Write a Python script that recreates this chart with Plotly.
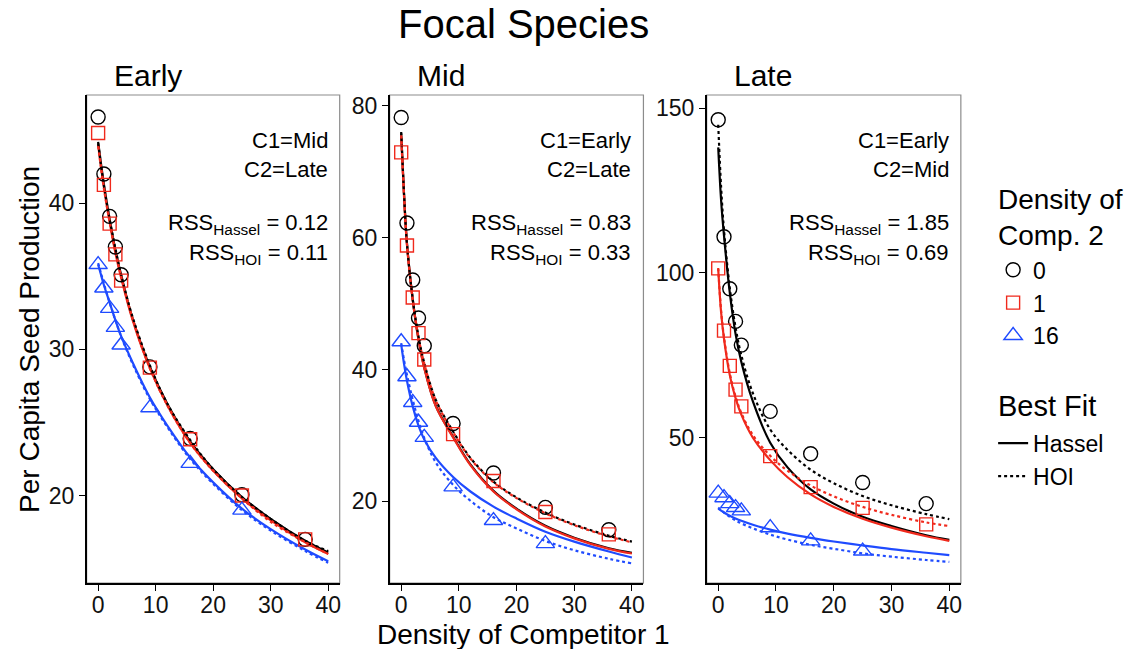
import plotly.graph_objects as go

# ---------------- data ----------------
x_obs = [0, 1, 2, 3, 4, 9, 16, 25, 36]
x_obs16 = [0, 1, 2, 3, 4, 9, 16, 25]
x_fit = [0, 0.5, 1, 2, 3, 4, 6, 9, 12, 16, 20, 25, 30, 36, 40]

panels = ["Early", "Mid", "Late"]
comp1_labels = ["C1=Mid", "C1=Early", "C1=Early"]
comp2_labels = ["C2=Late", "C2=Late", "C2=Mid"]
rss_hassel = ["0.12", "0.83", "1.85"]
rss_hoi = ["0.11", "0.33", "0.69"]

# observed points (density of comp. 2 = 0, 1, 16)
early_d0 = [45.9, 42.0, 39.1, 37.0, 35.1, 28.8, 23.9, 20.05, 17.0]
early_d1 = [44.8, 41.25, 38.6, 36.5, 34.7, 28.75, 23.85, 20.0, 17.0]
early_d16 = [35.8, 34.2, 32.8, 31.5, 30.3, 26.0, 22.2, 19.0]

mid_d0 = [78.2, 62.2, 53.55, 47.8, 43.6, 31.8, 24.3, 19.1, 15.7]
mid_d1 = [72.9, 58.8, 50.9, 45.5, 41.5, 30.2, 23.1, 18.4, 15.0]
mid_d16 = [44.2, 38.9, 35.0, 32.0, 29.7, 22.2, 17.1, 13.6]

late_d0 = [146.5, 111.0, 95.2, 85.3, 78.1, 58.0, 45.15, 36.4, 30.0]
late_d1 = [101.4, 82.5, 71.8, 64.6, 59.5, 44.4, 35.0, 28.7, 23.7]
late_d16 = [33.2, 31.8, 30.0, 28.8, 27.8, 22.7, 18.7, 15.6]

# fitted curves
early_hassel_d0 = [44.2, 42.7, 41.3, 38.9, 36.8, 35.1, 32.1, 28.8, 26.3, 23.7, 21.8, 19.9, 18.4, 16.9, 16.1]
early_hoi_d0 = [44.1, 42.6, 41.2, 38.9, 36.9, 35.1, 32.2, 28.9, 26.3, 23.8, 21.8, 19.9, 18.4, 16.9, 16.2]
early_hassel_d1 = [44.0, 42.5, 41.1, 38.7, 36.6, 34.9, 32.0, 28.7, 26.2, 23.6, 21.7, 19.8, 18.3, 16.8, 16.0]
early_hoi_d1 = [43.9, 42.4, 41.0, 38.7, 36.7, 35.0, 32.1, 28.7, 26.2, 23.6, 21.7, 19.8, 18.2, 16.8, 16.0]
early_hassel_d16 = [35.8, 35.1, 34.4, 33.2, 32.0, 30.9, 29.1, 26.7, 24.8, 22.6, 20.9, 19.1, 17.7, 16.3, 15.5]
early_hoi_d16 = [35.9, 35.2, 34.5, 33.2, 32.0, 30.9, 29.0, 26.6, 24.7, 22.5, 20.8, 19.0, 17.6, 16.2, 15.4]

mid_hassel_d0 = [75.8, 66.5, 59.2, 50.6, 44.6, 40.3, 34.5, 29.8, 25.6, 21.6, 18.9, 16.3, 14.5, 12.9, 12.2]
mid_hoi_d0 = [76.0, 66.4, 59.0, 50.7, 45.0, 41.0, 35.4, 30.6, 26.6, 23.0, 20.6, 18.3, 16.5, 14.8, 13.9]
mid_hassel_d1 = [75.3, 66.2, 59.0, 50.5, 44.5, 40.2, 34.4, 29.7, 25.5, 21.5, 18.8, 16.2, 14.4, 12.8, 12.1]
mid_hoi_d1 = [75.5, 66.2, 58.9, 50.6, 44.9, 40.9, 35.3, 30.5, 26.5, 22.9, 20.5, 18.2, 16.4, 14.7, 13.8]
mid_hassel_d16 = [43.8, 40.8, 38.3, 34.4, 31.5, 29.4, 26.6, 23.7, 21.5, 19.2, 17.4, 15.4, 13.9, 12.4, 11.5]
mid_hoi_d16 = [44.0, 41.4, 39.2, 35.4, 32.2, 29.6, 25.9, 22.5, 20.1, 17.6, 15.9, 14.0, 12.6, 11.3, 10.6]

late_hassel_d0 = [138.1, 122.0, 111.3, 94.0, 81.5, 73.0, 61.0, 48.5, 41.0, 34.3, 30.0, 26.0, 23.2, 20.4, 19.0]
late_hoi_d0 = [145.0, 126.0, 113.0, 95.5, 83.5, 75.0, 63.5, 52.5, 46.3, 40.3, 36.2, 32.3, 29.5, 26.8, 25.3]
late_hassel_d1 = [101.2, 88.0, 80.0, 69.0, 62.0, 57.0, 50.0, 43.2, 38.0, 32.8, 29.0, 25.4, 22.7, 20.1, 18.7]
late_hoi_d1 = [101.5, 88.5, 80.5, 69.5, 62.5, 57.5, 50.8, 44.5, 40.0, 35.5, 32.2, 29.0, 26.6, 24.3, 23.2]
late_hassel_d16 = [28.5, 27.9, 27.3, 26.3, 25.5, 24.8, 23.6, 22.1, 20.9, 19.6, 18.5, 17.3, 16.2, 15.1, 14.4]
late_hoi_d16 = [28.8, 28.0, 27.3, 26.0, 24.9, 24.0, 22.5, 20.6, 19.1, 17.5, 16.3, 14.9, 13.9, 12.9, 12.3]

y_ticks = [[20, 30, 40], [20, 40, 60, 80], [50, 100, 150]]
y_ranges = [[14.0, 47.4], [7.6, 81.6], [5.85, 154.0]]
x_ticks = [0, 10, 20, 30, 40]
x_range = [-2, 42]

# --------------- style ---------------
FONT = "Liberation Sans, Arial, sans-serif"
BLACK = "#000000"
RED = "#F0291C"
BLUE = "#1F4BFF"
colors = [BLACK, RED, BLUE]
dens_labels = ["0", "1", "16"]
symbols = ["circle-open", "square-open", "triangle-up-open"]
msizes = [14, 13, 16]

obs = [[early_d0, early_d1, early_d16], [mid_d0, mid_d1, mid_d16], [late_d0, late_d1, late_d16]]
fits_h = [[early_hassel_d0, early_hassel_d1, early_hassel_d16],
          [mid_hassel_d0, mid_hassel_d1, mid_hassel_d16],
          [late_hassel_d0, late_hassel_d1, late_hassel_d16]]
fits_o = [[early_hoi_d0, early_hoi_d1, early_hoi_d16],
          [mid_hoi_d0, mid_hoi_d1, mid_hoi_d16],
          [late_hoi_d0, late_hoi_d1, late_hoi_d16]]

W, H = 1133, 649
x_dom_px = [(86.7, 340.0), (390.0, 644.0), (707.3, 961.7)]
y_dom_px = (93.3, 583.0)

fig = go.Figure()
layout = dict()
shapes = []
annotations = []


def ann(text, x, y, size, xanchor="left", yanchor="middle", **kw):
    annotations.append(dict(text=text, xref="paper", yref="paper", x=x / W, y=1 - y / H,
                            xanchor=xanchor, yanchor=yanchor, showarrow=False,
                            font=dict(family=FONT, size=size, color=BLACK), **kw))


for p in range(3):
    sfx = "" if p == 0 else str(p + 1)
    xa, ya = "x" + sfx, "y" + sfx
    for g in range(3):
        fig.add_trace(go.Scatter(
            x=x_fit, y=fits_h[p][g], mode="lines", xaxis=xa, yaxis=ya,
            line=dict(color=colors[g], width=2.2, shape="spline"),
            name="Hassel", legend="legend2",
            showlegend=(p == 0 and g == 0), hoverinfo="skip"))
    for g in range(3):
        fig.add_trace(go.Scatter(
            x=x_fit, y=fits_o[p][g], mode="lines", xaxis=xa, yaxis=ya,
            line=dict(color=colors[g], width=2.2, dash="dot", shape="spline"),
            name="HOI", legend="legend2",
            showlegend=(p == 0 and g == 0), hoverinfo="skip"))
    for g in range(3):
        xs = x_obs16 if g == 2 else x_obs
        fig.add_trace(go.Scatter(
            x=xs, y=obs[p][g], mode="markers", xaxis=xa, yaxis=ya,
            marker=dict(symbol=symbols[g], size=msizes[g], color=colors[g],
                        line=dict(width=1.4, color=colors[g])),
            name=dens_labels[g], legend="legend",
            showlegend=(p == 0)))

    x0, x1 = x_dom_px[p]
    common = dict(ticks="outside", ticklen=6, tickwidth=1.3, tickcolor=BLACK,
                  showline=True, linecolor=BLACK, linewidth=1.6, showgrid=False, zeroline=False,
                  tickfont=dict(family=FONT, size=23, color="#111111"))
    layout["xaxis" + sfx] = dict(domain=[x0 / W, x1 / W], anchor=ya, range=x_range,
                                 tickvals=x_ticks, ticklabelstandoff=-6, **common)
    layout["yaxis" + sfx] = dict(domain=[1 - y_dom_px[1] / H, 1 - y_dom_px[0] / H], anchor=xa,
                                 range=y_ranges[p], tickvals=y_ticks[p], **common)
    shapes.append(dict(type="rect", xref=xa + " domain", yref=ya + " domain",
                       x0=0, x1=1, y0=0, y1=1, line=dict(color="#8c8c8c", width=1.2),
                       layer="below"))
    ann(panels[p], x0 + 25, 74, 30)
    ann(comp1_labels[p], x1 - 10, 139, 22, xanchor="right")
    ann(comp2_labels[p], x1 - 10, 168, 22, xanchor="right")
    ann("RSS<sub>Hassel</sub> = " + rss_hassel[p], x1 - 10, 223, 22, xanchor="right")
    ann("RSS<sub>HOI</sub> = " + rss_hoi[p], x1 - 10, 253, 22, xanchor="right")

ann("Focal Species", 524, 22, 40, xanchor="center")
ann("Density of Competitor 1", 524, 634, 28, xanchor="center")
ann("Per Capita Seed Production", 30, 338, 28, xanchor="center", textangle=-90)
ann("Density of<br>Comp. 2", 997, 216, 28, align="left")
ann("Best Fit", 997, 405, 29)

fig.update_layout(
    width=W, height=H,
    margin=dict(l=0, r=0, t=0, b=0),
    paper_bgcolor="white", plot_bgcolor="white",
    shapes=shapes, annotations=annotations,
    legend=dict(font=dict(family=FONT, size=23, color=BLACK),
                x=994 / W, y=1 - 247 / H, xanchor="left", yanchor="top",
                bgcolor="rgba(0,0,0,0)", tracegroupgap=0),
    legend2=dict(font=dict(family=FONT, size=23, color=BLACK),
                 x=994 / W, y=1 - 421 / H, xanchor="left", yanchor="top",
                 bgcolor="rgba(0,0,0,0)", tracegroupgap=0),
    showlegend=True,
    **layout,
)

fig.write_html("out.html", config={"displayModeBar": False},
               post_script="document.body.style.margin='0px';")
